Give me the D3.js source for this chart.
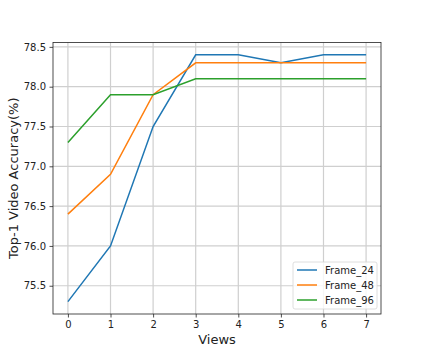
<!DOCTYPE html>
<html>
<head>
<meta charset="utf-8">
<script src="https://cdn.jsdelivr.net/npm/d3@7"></script>
<style>
  body { margin: 0; background: #fff; }
  svg text { font-family: "DejaVu Sans", sans-serif; fill: #222; }
</style>
</head>
<body>
<svg id="chart" width="423" height="353"></svg>
<script>
const views = [0, 1, 2, 3, 4, 5, 6, 7];
const frame24 = [75.3, 76.0, 77.5, 78.4, 78.4, 78.3, 78.4, 78.4];
const frame48 = [76.4, 76.9, 77.9, 78.3, 78.3, 78.3, 78.3, 78.3];
const frame96 = [77.3, 77.9, 77.9, 78.1, 78.1, 78.1, 78.1, 78.1];
const yTicks = [75.5, 76.0, 76.5, 77.0, 77.5, 78.0, 78.5];

const series = [
  { name: "Frame_24", values: frame24, color: "#1f77b4" },
  { name: "Frame_48", values: frame48, color: "#ff7f0e" },
  { name: "Frame_96", values: frame96, color: "#2ca02c" },
];

const svg = d3.select("#chart");
const plotLeft = 53, plotRight = 381, plotTop = 42.5, plotBottom = 314;

const x = d3.scaleLinear().domain([-0.35, 7.35]).range([plotLeft, plotRight]);
const y = d3.scaleLinear().domain([75.145, 78.555]).range([plotBottom, plotTop]);

// grid
svg.append("g")
  .selectAll("line")
  .data(views)
  .join("line")
  .attr("x1", (d) => x(d)).attr("x2", (d) => x(d))
  .attr("y1", plotTop).attr("y2", plotBottom)
  .attr("stroke", "#cfcfcf").attr("stroke-width", 1.2);

svg.append("g")
  .selectAll("line")
  .data(yTicks)
  .join("line")
  .attr("x1", plotLeft).attr("x2", plotRight)
  .attr("y1", (d) => y(d)).attr("y2", (d) => y(d))
  .attr("stroke", "#cfcfcf").attr("stroke-width", 1.2);

// lines
const line = d3.line().x((d, i) => x(views[i])).y((d) => y(d));
series.forEach((s) => {
  svg.append("path")
    .datum(s.values)
    .attr("d", line)
    .attr("fill", "none")
    .attr("stroke", s.color)
    .attr("stroke-width", 1.5);
});

// axes
const xAxis = svg.append("g")
  .attr("transform", `translate(0,${plotBottom})`)
  .call(d3.axisBottom(x).tickValues(views).tickFormat(d3.format("d")).tickSize(3.5).tickPadding(3.5));
const yAxis = svg.append("g")
  .attr("transform", `translate(${plotLeft},0)`)
  .call(d3.axisLeft(y).tickValues(yTicks).tickFormat(d3.format(".1f")).tickSize(3.5).tickPadding(3.5));

[xAxis, yAxis].forEach((a) => {
  a.select(".domain").remove();
  a.selectAll("text").attr("font-size", 10).style("font-family", "DejaVu Sans, sans-serif").attr("fill", "#222");
  a.selectAll("line").attr("stroke", "#222").attr("stroke-width", 0.8);
});

// frame
svg.append("rect")
  .attr("x", plotLeft).attr("y", plotTop)
  .attr("width", plotRight - plotLeft).attr("height", plotBottom - plotTop)
  .attr("fill", "none").attr("stroke", "#222").attr("stroke-width", 0.8);

// labels
svg.append("text")
  .attr("x", (plotLeft + plotRight) / 2).attr("y", 344)
  .attr("text-anchor", "middle").attr("font-size", 13)
  .text("Views");

svg.append("text")
  .attr("transform", `translate(18,${(plotTop + plotBottom) / 2}) rotate(-90)`)
  .attr("text-anchor", "middle").attr("font-size", 13)
  .text("Top-1 Video Accuracy(%)");

// legend
const lg = svg.append("g").attr("transform", "translate(293,262)");
lg.append("rect")
  .attr("width", 84).attr("height", 47).attr("rx", 2)
  .attr("fill", "#fff").attr("fill-opacity", 0.8)
  .attr("stroke", "#d6d6d6").attr("stroke-width", 0.8);
series.forEach((s, i) => {
  const yy = 8 + i * 15;
  lg.append("line")
    .attr("x1", 4).attr("x2", 24).attr("y1", yy).attr("y2", yy)
    .attr("stroke", s.color).attr("stroke-width", 1.5);
  lg.append("text")
    .attr("x", 32).attr("y", yy).attr("dy", "0.35em")
    .attr("font-size", 10)
    .text(s.name);
});
</script>
</body>
</html>
